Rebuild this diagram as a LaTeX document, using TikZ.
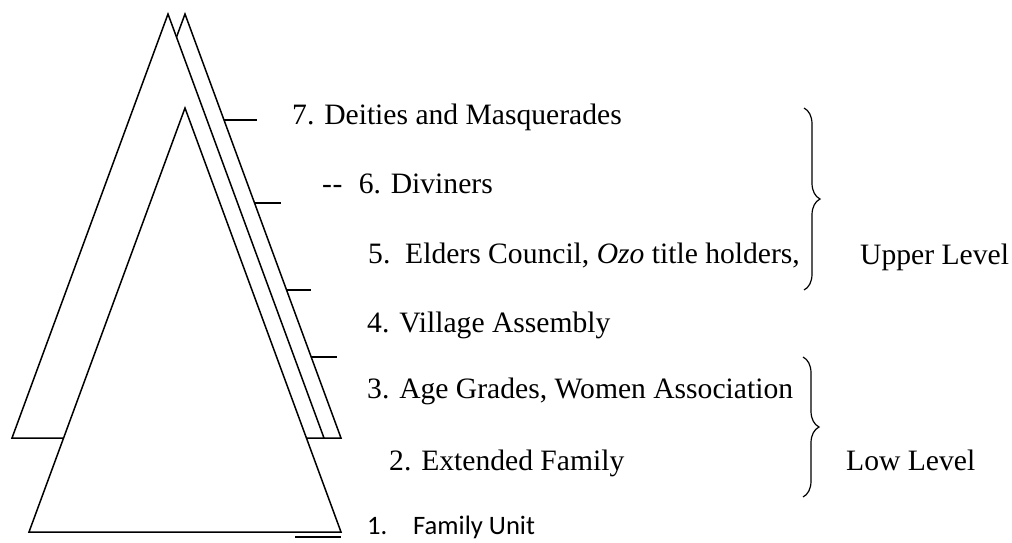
\documentclass[tikz,border=0pt]{standalone}
\usepackage{fontspec}
\setmainfont{Liberation Serif}
\newfontfamily\calibri{Carlito}
\usetikzlibrary{decorations.pathreplacing}

\tikzset{
  tri/.style={draw, fill=white, line width=1.5pt},
  notch/.style={line width=1.5pt},
  lvl/.style={anchor=base west, inner sep=0pt, font=\fontsize{29.6}{34}\selectfont},
  curly/.style={decorate, decoration={brace, amplitude=16pt, aspect=0.5}, line width=1.2pt}
}

\begin{document}
\begin{tikzpicture}[x=1pt,y=-1pt]
\useasboundingbox (0,0) rectangle (1012,542);
% triangles, back to front
\draw[tri] (185,14) -- (341,438) -- (29,438) -- cycle;
\draw[tri] (168,14) -- (324,438) -- (12,438) -- cycle;
\draw[tri] (185,108) -- (341,532) -- (29,532) -- cycle;
\draw[notch] (295,537) -- (341,537);
% marks on the outer edge
\draw[notch] (224,120) -- (257,120);
\draw[notch] (255,203) -- (281,203);
\draw[notch] (287,290) -- (311,290);
\draw[notch] (311,357) -- (337,357);
% levels
\node[lvl] (deities) at (292,124) {7. Deities and Masquerades};
\node[lvl] (diviners) at (322,193) {-\kern0.6pt-\hspace{0.55em}6. Diviners};
\node[lvl] (elders) at (368,263) {5.\ \ Elders Council, \textit{Ozo} title holders,};
\node[lvl] (village) at (367,332) {4. Village Assembly};
\node[lvl] (agegrades) at (367,398) {3. Age Grades, Women Association};
\node[lvl] (extended) at (389,470) {2. Extended Family};
\node[lvl,font=\calibri\fontsize{26.6}{32}\selectfont] (family) at (367,534) {\makebox[46pt][l]{1.}Family Unit};
% braces
\draw[curly] (804,108) -- (804,290);
\draw[curly] (803,357) -- (803,497);
\node[lvl] (upper) at (860,264) {Upper Level};
\node[lvl] (low) at (846,470) {Low Level};
\end{tikzpicture}
\end{document}
